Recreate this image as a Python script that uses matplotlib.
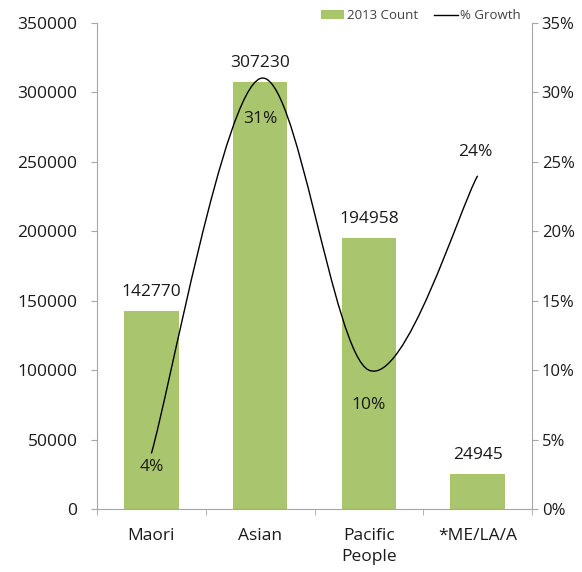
from matplotlib import pyplot as plt
from matplotlib.path import Path
from matplotlib.patches import PathPatch
from matplotlib.lines import Line2D
from matplotlib.patches import Patch
import numpy as np

categories = ["Maori", "Asian", "Pacific\nPeople", "*ME/LA/A"]
counts = [142770, 307230, 194958, 24945]
growth = [0.04, 0.31, 0.10, 0.24]
count_ticks = [0, 50000, 100000, 150000, 200000, 250000, 300000, 350000]
growth_ticks = [0, 0.05, 0.10, 0.15, 0.20, 0.25, 0.30, 0.35]

bar_color = "#A9C56D"
axis_color = "#A6A6A6"
text_color = "#1A1A1A"

plt.rcParams['font.family'] = ['Open Sans', 'DejaVu Sans']

fig = plt.figure(figsize=(5.82, 5.72), dpi=100)
ax = fig.add_axes([97 / 582, 63 / 572, 435 / 582, 486 / 572])
ax2 = ax.twinx()

x = np.arange(len(categories))
ax.bar(x, counts, width=0.5, color=bar_color, zorder=2)
ax.set_xlim(-0.5, len(categories) - 0.5)
ax.set_ylim(0, 350000)
ax.set_yticks(count_ticks)
ax.set_yticklabels([str(v) for v in count_ticks])
ax.set_xticks(x)
ax.set_xticklabels(categories, linespacing=1.35)
ax.set_xticks(np.arange(-0.5, len(categories)), minor=True)
ax.tick_params(axis='x', which='major', length=0, pad=14, labelsize=12.5, labelcolor=text_color)
ax.tick_params(axis='x', which='minor', length=4, color=axis_color)
ax.tick_params(axis='y', length=4, color=axis_color, labelsize=12.5, labelcolor=text_color, pad=10)

for xi, c in zip(x, counts):
    ax.annotate(str(c), (xi, c), xytext=(0, 8), textcoords='offset points',
                ha='center', va='bottom', fontsize=12.5, color=text_color)

# smoothed line (Excel-style bezier through the points)
ax2.set_ylim(0, 0.35)
ax2.set_yticks(growth_ticks)
ax2.set_yticklabels([f"{int(round(v * 100))}%" for v in growth_ticks])
ax2.tick_params(axis='y', length=4, color=axis_color, labelsize=12, labelcolor=text_color, pad=3)

pts = np.column_stack([x, growth])
verts = [pts[0]]
codes = [Path.MOVETO]
n = len(pts)
for i in range(n - 1):
    p0 = pts[max(i - 1, 0)]
    p1 = pts[i]
    p2 = pts[i + 1]
    p3 = pts[min(i + 2, n - 1)]
    verts += [p1 + (p2 - p0) / 6, p2 - (p3 - p1) / 6, p2]
    codes += [Path.CURVE4] * 3
ax2.add_patch(PathPatch(Path(verts, codes), fill=False, edgecolor='black', lw=1.0, zorder=3))

offsets = [(0, -10), (0, -29), (0, -25), (-2, 17)]
for xi, g, off in zip(x, growth, offsets):
    ax2.annotate(f"{int(round(g * 100))}%", (xi, g), xytext=off, textcoords='offset points',
                 ha='center', va='center', fontsize=12.5, color=text_color)

for a in (ax, ax2):
    a.spines['top'].set_visible(False)
    for s in ('left', 'right', 'bottom'):
        a.spines[s].set_color(axis_color)
ax.spines['right'].set_visible(False)
ax2.spines['left'].set_visible(False)
ax2.spines['bottom'].set_visible(False)

handles = [Patch(facecolor=bar_color, edgecolor='none'), Line2D([0], [0], color='black', lw=1)]
fig.legend(handles, ["2013 Count", "% Growth"], ncol=2, frameon=False, fontsize=9.5,
           labelcolor='#404040', loc='upper right', bbox_to_anchor=(533 / 582, 1.005),
           handlelength=1.8, handleheight=0.6, columnspacing=1.2, handletextpad=0.2)

fig.savefig("out.png", dpi=100)
